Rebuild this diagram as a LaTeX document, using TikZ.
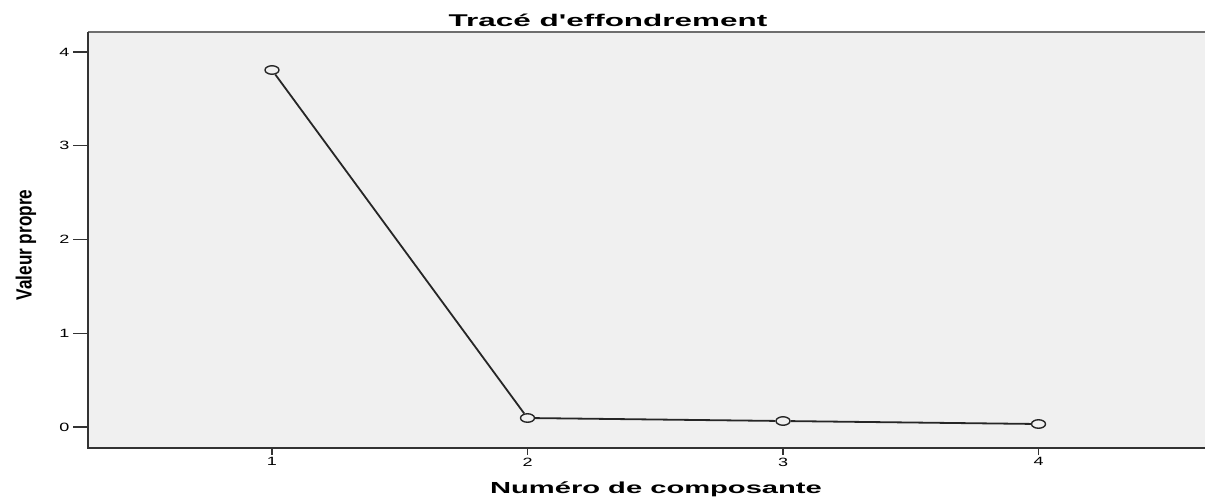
\documentclass[tikz,border=0pt]{standalone}
\usepackage{fontspec}
\setmainfont{Liberation Sans}
\newfontfamily\chartfont{Liberation Sans}
\usetikzlibrary{positioning,shapes.geometric}
\definecolor{plotbg}{HTML}{F0F0F0}
\definecolor{framegray}{HTML}{6E6E6E}
\tikzset{
  every node/.style={text=black, font=\chartfont\fontsize{11}{13}\selectfont},
  every path/.style={line width=0.5mm},
  ticklabel/.style={inner sep=1pt, font=\chartfont\fontsize{12}{14}\selectfont},
  marker/.style={draw=black!85, fill=plotbg, ellipse, minimum width=14pt, minimum height=8.5pt, inner sep=0pt, line width=1.4pt}
}

\begin{document}
\begin{tikzpicture}[x=1pt, y=-1pt]
  \useasboundingbox (0,0) rectangle (1205,499);
  % Plot area
  \fill[plotbg] (88,32) rectangle (1205,448);
  \draw[framegray, line width=0.4mm] (88,32) -- (1205,32);
  \draw[black!80] (1205,448) -- (88,448) -- (88,32);

  % Y axis ticks
  \foreach \v in {0,...,4} {
    \draw[black!80, line width=1.2pt] (73,{427-93.75*\v}) -- (88,{427-93.75*\v});
    \node[ticklabel, anchor=east] (ytick\v) at (71,{427-93.75*\v}) {\scalebox{1.5}[1]{\v}};
  }
  % X axis ticks
  \foreach \k in {1,...,4} {
    \draw[black!80, line width=1.2pt] ({272+255.5*(\k-1)},448) -- ({272+255.5*(\k-1)},455);
    \node[ticklabel, anchor=north] (xtick\k) at ({272+255.5*(\k-1)},456) {\scalebox{1.5}[1]{\k}};
  }

  % Eigenvalues
  \node[marker] (comp1) at (272,70) {};
  \node[marker] (comp2) at (527.5,418) {};
  \node[marker] (comp3) at (783,421) {};
  \node[marker] (comp4) at (1038.5,424) {};
  \draw[black!85, line width=1.8pt] (comp1) -- (comp2) -- (comp3) -- (comp4);

  % Labels
  \node[anchor=base, inner sep=0pt] (title) at (608,26) {\fontsize{17}{19}\selectfont\bfseries\scalebox{1.85}[1]{Tracé d'effondrement}};
  \node[anchor=base, inner sep=0pt] (xlabel) at (656,493) {\fontsize{16}{18}\selectfont\bfseries\scalebox{1.82}[1]{Numéro de composante}};
  \node[rotate=90] (ylabel) at (26,245) {\fontsize{22}{24}\selectfont\bfseries\scalebox{0.78}[1]{Valeur propre}};
\end{tikzpicture}
\end{document}
